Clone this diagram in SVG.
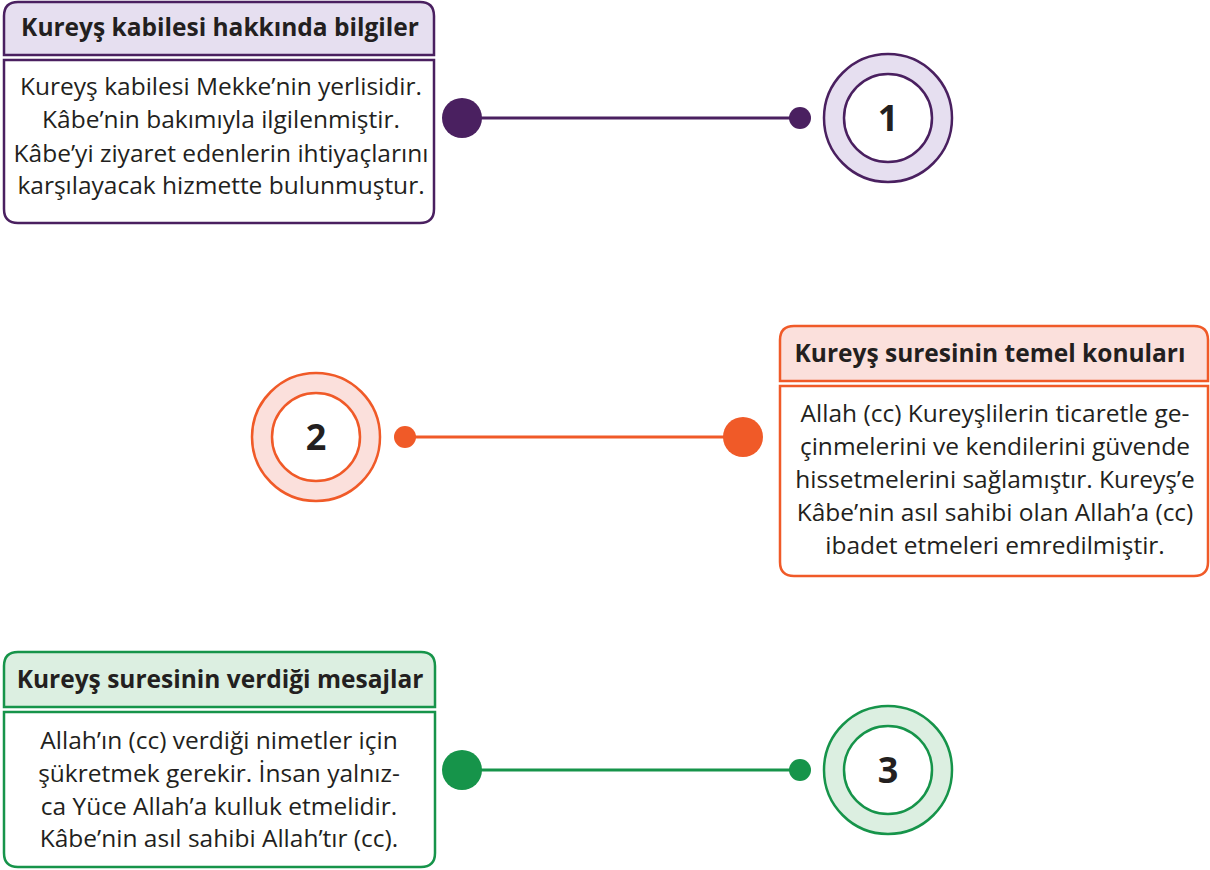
<svg xmlns="http://www.w3.org/2000/svg" width="1210" height="870" viewBox="0 0 1210 870">
<style>
.hd{font-family:"Open Sans","Noto Sans",sans-serif;font-weight:bold;font-size:24.5px;fill:#231f20;text-anchor:middle}
.bd{font-family:"Open Sans","Noto Sans",sans-serif;font-size:24.5px;fill:#231f20;text-anchor:middle}
.num{font-family:"Open Sans","Noto Sans",sans-serif;font-weight:bold;font-size:36px;fill:#231f20;text-anchor:middle}
.p{stroke:#4a2060}
.o{stroke:#f05a28}
.g{stroke:#16944a}
.box{stroke-width:2.5}
</style>
<rect width="1210" height="870" fill="#fff"/>
<g id="box1">
<path class="p box" d="M4,55 V16 Q4,2 18,2 H420 Q434,2 434,16 V55 Z" fill="#e6dff0"/>
<path class="p box" d="M4,60 H434 V209 Q434,223 420,223 H18 Q4,223 4,209 Z" fill="#fff"/>
<text class="hd" x="220" y="36">Kureyş kabilesi hakkında bilgiler</text>
<text class="bd" x="221" y="95">Kureyş kabilesi Mekke’nin yerlisidir.</text>
<text class="bd" x="221" y="128">Kâbe’nin bakımıyla ilgilenmiştir.</text>
<text class="bd" x="221" y="162">Kâbe’yi ziyaret edenlerin ihtiyaçlarını</text>
<text class="bd" x="221" y="194">karşılayacak hizmette bulunmuştur.</text>
</g>
<g id="circle1">
<circle class="p" cx="888" cy="118" r="64" fill="#e6dff0" stroke-width="2.5"/>
<circle class="p" cx="888" cy="118" r="44" fill="#fff" stroke-width="2.5"/>
<text class="num" x="888" y="131">1</text>
</g>
<g id="box2">
<path class="o box" d="M780,381 V340 Q780,326 794,326 H1194 Q1208,326 1208,340 V381 Z" fill="#fbe0dc"/>
<path class="o box" d="M780,386 H1208 V562 Q1208,576 1194,576 H794 Q780,576 780,562 Z" fill="#fff"/>
<text class="hd" x="990" y="362">Kureyş suresinin temel konuları</text>
<text class="bd" x="995" y="422">Allah (cc) Kureyşlilerin ticaretle ge-</text>
<text class="bd" x="995" y="455">çinmelerini ve kendilerini güvende</text>
<text class="bd" x="995" y="488">hissetmelerini sağlamıştır. Kureyş’e</text>
<text class="bd" x="995" y="521">Kâbe’nin asıl sahibi olan Allah’a (cc)</text>
<text class="bd" x="995" y="554">ibadet etmeleri emredilmiştir.</text>
</g>
<g id="circle2">
<circle class="o" cx="316" cy="437" r="64" fill="#fbe0dc" stroke-width="2.5"/>
<circle class="o" cx="316" cy="437" r="44" fill="#fff" stroke-width="2.5"/>
<text class="num" x="316" y="450">2</text>
</g>
<g id="box3">
<path class="g box" d="M4,707 V666 Q4,652 18,652 H421 Q435,652 435,666 V707 Z" fill="#dcefe1"/>
<path class="g box" d="M4,712 H435 V853 Q435,867 421,867 H18 Q4,867 4,853 Z" fill="#fff"/>
<text class="hd" x="220" y="688">Kureyş suresinin verdiği mesajlar</text>
<text class="bd" x="219" y="749">Allah’ın (cc) verdiği nimetler için</text>
<text class="bd" x="219" y="782">şükretmek gerekir. İnsan yalnız-</text>
<text class="bd" x="219" y="815">ca Yüce Allah’a kulluk etmelidir.</text>
<text class="bd" x="219" y="847">Kâbe’nin asıl sahibi Allah’tır (cc).</text>
</g>
<g id="circle3">
<circle class="g" cx="888" cy="770" r="64" fill="#dcefe1" stroke-width="2.5"/>
<circle class="g" cx="888" cy="770" r="44" fill="#fff" stroke-width="2.5"/>
<text class="num" x="888" y="783">3</text>
</g>
<g id="connectors">
<line x1="462" y1="118" x2="800" y2="118" stroke="#4a2060" stroke-width="3"/>
<circle cx="462" cy="118" r="20" fill="#4a2060"/>
<circle cx="800" cy="118" r="11" fill="#4a2060"/>
<line x1="405" y1="437" x2="743" y2="437" stroke="#f05a28" stroke-width="3"/>
<circle cx="405" cy="437" r="11" fill="#f05a28"/>
<circle cx="743" cy="437" r="20" fill="#f05a28"/>
<line x1="462" y1="770" x2="800" y2="770" stroke="#16944a" stroke-width="3"/>
<circle cx="462" cy="770" r="20" fill="#16944a"/>
<circle cx="800" cy="770" r="11" fill="#16944a"/>
</g>
</svg>
